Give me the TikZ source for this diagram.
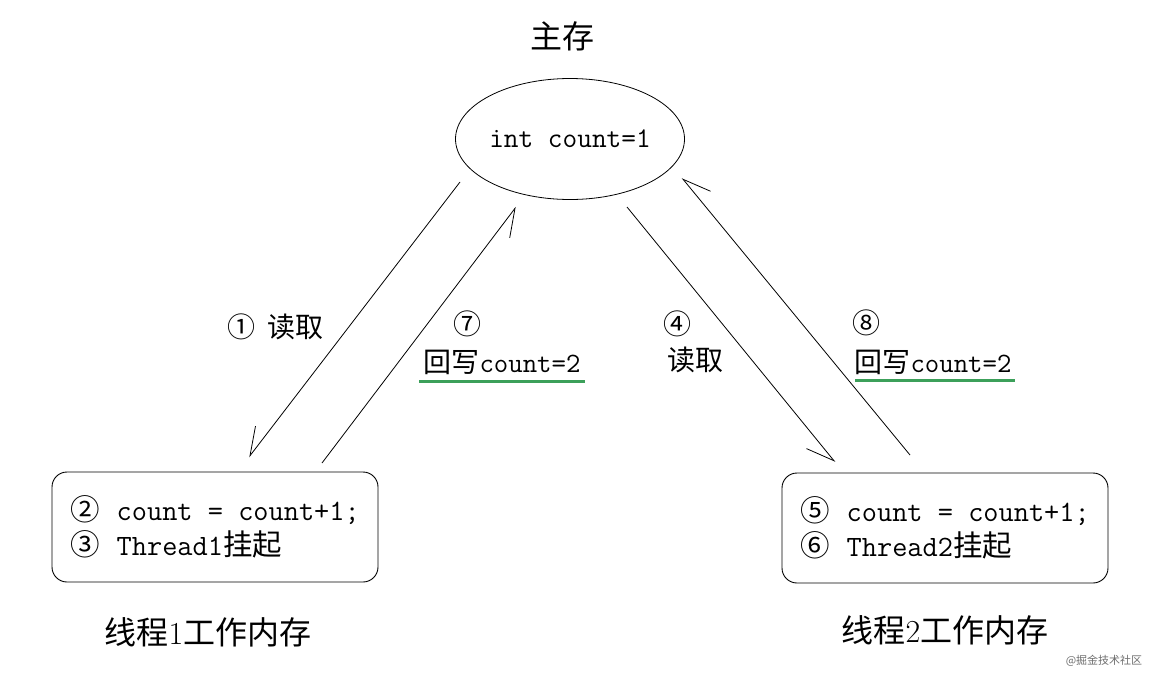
\documentclass[tikz,border=0pt]{standalone}
\usepackage{fontspec}
\newfontfamily\cjk{Noto Sans CJK SC}
\usetikzlibrary{shapes.geometric,arrows.meta}
\definecolor{ulgreen}{RGB}{60,160,90}
\definecolor{wmgray}{RGB}{110,110,110}
\begin{document}
\begin{tikzpicture}[x=1pt,y=-1pt,
  conn/.style={line width=0.8pt, -{Straight Barb[right,angle=54:30pt]}},
  membox/.style={draw, line width=0.8pt, ellipse, minimum width=229pt, minimum height=121pt, inner sep=0pt},
  workbox/.style={draw, line width=0.9pt, rounded corners=15pt, minimum width=326pt, minimum height=110pt, align=left, inner sep=0pt, font=\fontsize{29.5}{35}\selectfont},
  lbl/.style={inner sep=0pt, font=\fontsize{28}{34}\selectfont},
  title/.style={inner sep=0pt, font=\fontsize{32}{38}\selectfont},
  uline/.style={draw=ulgreen, line width=3pt}
]
\useasboundingbox[fill=white] (0,0) rectangle (1158,680);

% main memory
\node[title] (t0) at (562,36) {\cjk 主存};
\node[membox, font=\fontsize{28.5}{34}\selectfont\ttfamily] (mem) at (570,139) {int count=1};

% working memories
\node[workbox] (w1) at (215,527) {{\cjk ②}\hspace{17pt}\ttfamily count = count+1;\\{\cjk ③}\hspace{17pt}\ttfamily Thread1{\cjk 挂起}};
\node[workbox] (w2) at (945,528) {{\cjk ⑤}\hspace{17pt}\ttfamily count = count+1;\\{\cjk ⑥}\hspace{17pt}\ttfamily Thread2{\cjk 挂起}};
\node[title] (t1) at (208,632) {{\cjk 线程}1{\cjk 工作内存}};
\node[title] (t2) at (945,630) {{\cjk 线程}2{\cjk 工作内存}};

% connector ends
\coordinate (a1s) at (460,182); \coordinate (a1e) at (249,457);
\coordinate (a7s) at (322,463); \coordinate (a7e) at (516,207);
\coordinate (a4s) at (627,207); \coordinate (a4e) at (835,462);
\coordinate (a8s) at (910,455); \coordinate (a8e) at (682,178);
\draw[conn] (a1s) -- (a1e);
\draw[conn] (a7s) -- (a7e);
\draw[conn] (a4s) -- (a4e);
\draw[conn] (a8s) -- (a8e);

% labels
\node[lbl, anchor=west] (l1) at (227,327) {{\cjk ①\hspace{12pt}读取}};
\node[lbl] (l7n) at (467,324) {\cjk ⑦};
\node[lbl] (l7) at (502,362) {{\cjk 回写}\ttfamily count=2};
\node[lbl] (l4n) at (677,324) {\cjk ④};
\node[lbl] (l4) at (695,360) {\cjk 读取};
\node[lbl] (l8n) at (866,323) {\cjk ⑧};
\node[lbl] (l8) at (933,362) {{\cjk 回写}\ttfamily count=2};

% green underlines
\coordinate (u7a) at (419,381); \coordinate (u7b) at (585,381);
\coordinate (u8a) at (855,380); \coordinate (u8b) at (1015,380);
\draw[uline] (u7a) -- (u7b);
\draw[uline] (u8a) -- (u8b);

% watermark
\node[inner sep=0pt, text=wmgray, font=\fontsize{11}{13}\selectfont] (wm) at (1104,661) {\cjk @掘金技术社区};
\end{tikzpicture}
\end{document}
